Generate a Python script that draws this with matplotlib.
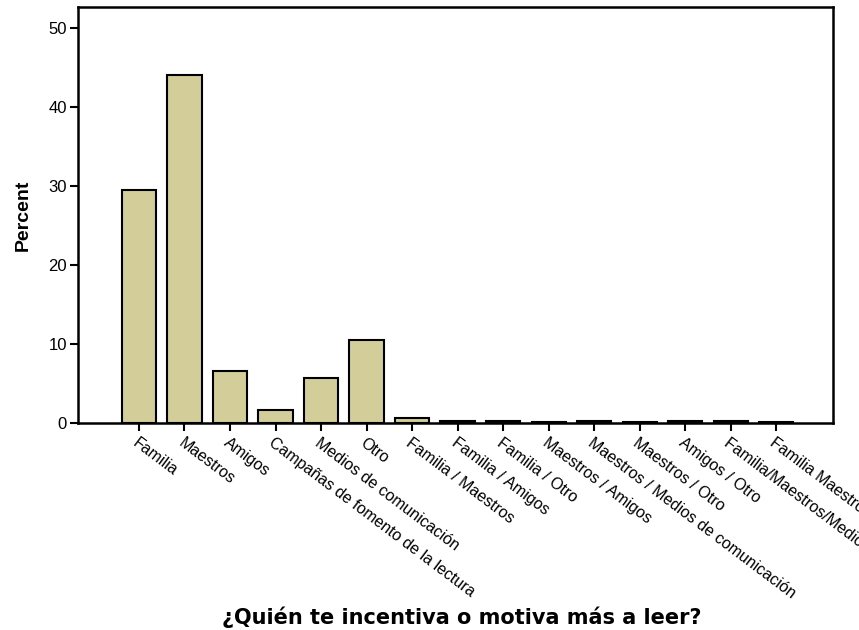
import matplotlib.pyplot as plt

plt.rcParams['font.family'] = ['Liberation Sans', 'DejaVu Sans']

# Response categories and percentage of answers
categories = [
    "Familia", "Maestros", "Amigos", "Campañas de fomento de la lectura",
    "Medios de comunicación", "Otro", "Familia / Maestros", "Familia / Amigos",
    "Familia / Otro", "Maestros / Amigos", "Maestros / Medios de comunicación",
    "Maestros / Otro", "Amigos / Otro", "Familia/Maestros/Medios de comunicación",
    "Familia Maestros Amigos",
]
percent = [29.5, 44.0, 6.6, 1.7, 5.7, 10.5, 0.6, 0.2, 0.2, 0.1, 0.2, 0.1, 0.2, 0.2, 0.1]
yticks = [0, 10, 20, 30, 40, 50]

fig = plt.figure(figsize=(8.59, 6.3), dpi=100)
ax = fig.add_axes([78 / 859, 1 - 423 / 630, (833 - 78) / 859, (423 - 7) / 630])

x = range(len(categories))
ax.bar(x, percent, width=0.75, color="#D3CE99", edgecolor="black", linewidth=1.5)

ax.set_xlim(-1.34, len(categories) + 0.25)
ax.set_ylim(0, 52.6)
ax.set_yticks(yticks)
ax.set_xticks(list(x))
ax.set_xticklabels(categories, rotation=-37, ha="left", va="top",
                   rotation_mode="anchor", fontsize=11.5)
ax.tick_params(axis="both", direction="out", length=6, width=1.5, colors="black")
ax.tick_params(axis="x", pad=3)
ax.tick_params(axis="y", labelsize=12, pad=2)
for s in ax.spines.values():
    s.set_linewidth(1.8)

ax.set_ylabel("Percent", fontsize=14, fontweight="bold", labelpad=12)
fig.text(462 / 859, 1 - 617 / 630, "¿Quién te incentiva o motiva más a leer?",
         ha="center", va="center", fontsize=15, fontweight="bold",
         family=["DejaVu Sans"])

fig.savefig("out.png", dpi=100)
